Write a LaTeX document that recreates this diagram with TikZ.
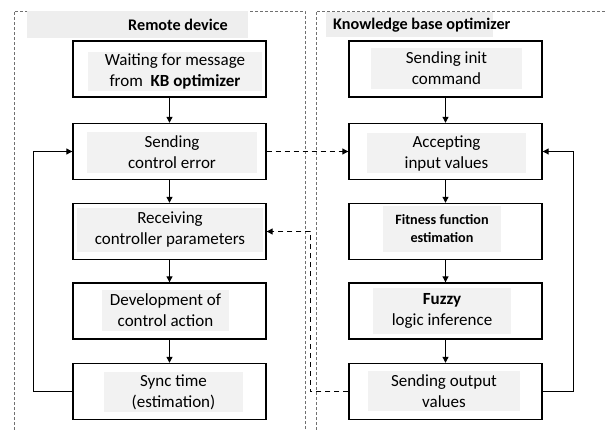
\documentclass[tikz,border=0pt]{standalone}
\usepackage{fontspec}
\setmainfont{Carlito}
\usetikzlibrary{arrows.meta}
\definecolor{innerfill}{HTML}{F2F2F2}
\definecolor{hdrfill}{HTML}{EEEEEE}
\definecolor{framecol}{HTML}{707070}
\begin{document}
\begin{tikzpicture}[x=1pt,y=-1pt,
  stepbox/.style={draw=black, line width=1.4pt, minimum width=193pt, minimum height=56pt, inner sep=0pt},
  lbl/.style={fill=innerfill, align=center, inner sep=0pt, font=\fontsize{17}{21}\selectfont},
  hdr/.style={fill=hdrfill, inner sep=0pt},
  hdrtext/.style={font=\fontsize{16.2}{18}\selectfont\bfseries, inner sep=0pt},
  flow/.style={line width=1.1pt, -{Triangle[length=6pt,width=6pt]}},
  msg/.style={line width=1.1pt, dash pattern=on 5pt off 4pt, -{Triangle[length=6pt,width=6pt]}},
  frame/.style={draw=framecol, line width=0.9pt, dash pattern=on 3pt off 2pt}]
\useasboundingbox (0,0) rectangle (605,430);
% containers
\draw[frame] (14,430) -- (14,11) -- (305,11) -- (305,430);
\draw[frame] (316,430) -- (316,11) -- (605,11);
% headers
\node[hdr, minimum width=221pt, minimum height=27pt] (hl) at (137.5,24.5) {};
\node[hdrtext] (hlt) at (178,25) {Remote device};
\node[hdr, minimum width=167pt, minimum height=25pt] (hr) at (409.5,24.5) {};
\node[hdrtext, anchor=west] (hrt) at (333,25) {Knowledge base optimizer};
% left boxes
\node[stepbox] (L1) at (169.5,69) {};
\node[stepbox] (L2) at (169.5,151.5) {};
\node[stepbox] (L3) at (169.5,231.5) {};
\node[stepbox] (L4) at (169.5,311) {};
\node[stepbox] (L5) at (169.5,391.5) {};
\node[lbl, minimum width=174pt, minimum height=39pt] (L1t) at (175,71.5) {Waiting for message\\from\ \ \textbf{KB optimizer}};
\node[lbl, minimum width=170pt, minimum height=41pt] (L2t) at (172,152.5) {Sending\\control error};
\node[lbl, minimum width=186pt, minimum height=44pt] (L3t) at (170,230) {Receiving\\controller parameters};
\node[lbl, minimum width=127pt, minimum height=41pt] (L4t) at (165.5,310.5) {Development of\\control action};
\node[lbl, minimum width=139pt, minimum height=40pt] (L5t) at (173.5,392) {Sync time\\(estimation)};
% right boxes
\node[stepbox] (R1) at (445.5,69) {};
\node[stepbox] (R2) at (445.5,151.5) {};
\node[stepbox] (R3) at (445.5,231.5) {};
\node[stepbox] (R4) at (445.5,311) {};
\node[stepbox] (R5) at (445.5,391.5) {};
\node[lbl, minimum width=151pt, minimum height=41pt] (R1t) at (446.5,68.5) {Sending init\\command};
\node[lbl, minimum width=159pt, minimum height=40pt] (R2t) at (446.5,153) {Accepting\\input values};
\node[lbl, minimum width=118pt, minimum height=46pt, font=\fontsize{14.2}{18}\selectfont\bfseries] (R3t) at (442,229) {Fitness function\\estimation};
\node[lbl, minimum width=138pt, minimum height=46pt] (R4t) at (442,311) {\textbf{Fuzzy}\\logic inference};
\node[lbl, minimum width=152pt, minimum height=40pt] (R5t) at (444,391) {Sending output\\values};
% flows
\draw[flow] (L1) -- (L2);
\draw[flow] (L2) -- (L3);
\draw[flow] (L3) -- (L4);
\draw[flow] (L4) -- (L5);
\draw[flow] (R1) -- (R2);
\draw[flow] (R2) -- (R3);
\draw[flow] (R3) -- (R4);
\draw[flow] (R4) -- (R5);
\draw[flow] (L5.west) -- ++(-39,0) |- (L2.west);
\draw[flow] (R5.east) -- ++(31,0) |- (R2.east);
% messages
\draw[msg] (L2.east) -- (R2.west);
\draw[msg] (R5.west) -- ++(-38,0) |- (L3.east);
\end{tikzpicture}
\end{document}
